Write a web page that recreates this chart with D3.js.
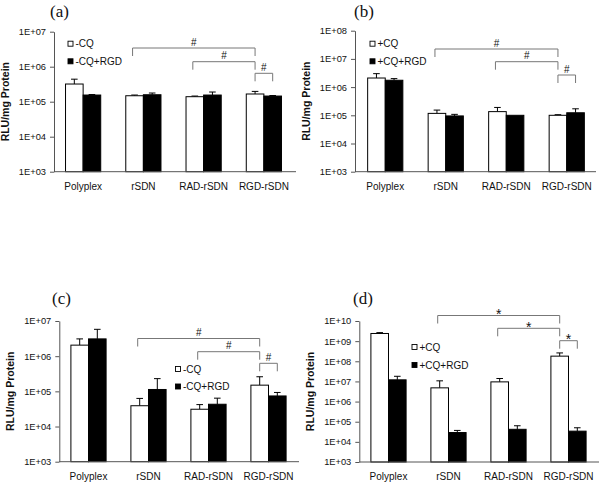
<!DOCTYPE html>
<html><head><meta charset="utf-8">
<script src="https://cdn.jsdelivr.net/npm/d3@7/dist/d3.min.js"></script>
<style>body{margin:0;background:#fff}svg{display:block}</style>
</head><body>
<svg id="chart" width="600" height="484"></svg>
<script>
// ---------- DATA ----------
const categories = ["Polyplex", "rSDN", "RAD-rSDN", "RGD-rSDN"];
const tickLabelsA = ["1E+03", "1E+04", "1E+05", "1E+06", "1E+07"];
const tickLabelsB = ["1E+03", "1E+04", "1E+05", "1E+06", "1E+07", "1E+08"];
const tickLabelsC = ["1E+03", "1E+04", "1E+05", "1E+06", "1E+07"];
const tickLabelsD = ["1E+03", "1E+04", "1E+05", "1E+06", "1E+07", "1E+08", "1E+09", "1E+10"];

const seriesA = ["-CQ", "-CQ+RGD"];
const aOpen = [3.2e5, 1.48e5, 1.39e5, 1.66e5];
const aOpenSD = [1.2e5, 0.07e5, 0.06e5, 0.31e5];
const aFilled = [1.55e5, 1.58e5, 1.55e5, 1.45e5];
const aFilledSD = [0.05e5, 0.19e5, 0.34e5, 0.05e5];

const seriesB = ["+CQ", "+CQ+RGD"];
const bOpen = [2.1e6, 1.17e5, 1.35e5, 1.0e5];
const bOpenSD = [0.9e6, 0.36e5, 0.55e5, 0.05e5];
const bFilled = [1.75e6, 0.95e5, 1.0e5, 1.23e5];
const bFilledSD = [0.25e6, 0.13e5, 0, 0.47e5];

const seriesC = ["-CQ", "-CQ+RGD"];
const cOpen = [2.06e6, 3.9e4, 3.1e4, 1.5e5];
const cOpenSD = [1.04e6, 2.4e4, 1.1e4, 1.1e5];
const cFilled = [3.1e6, 1.13e5, 4.3e4, 7.4e4];
const cFilledSD = [2.7e6, 1.17e5, 2.1e4, 1.9e4];

const seriesD = ["+CQ", "+CQ+RGD"];
const dOpen = [2.4e9, 4.8e6, 9.5e6, 1.8e8];
const dOpenSD = [0.25e9, 5.9e6, 4.5e6, 0.8e8];
const dFilled = [1.2e7, 2.9e4, 4.2e4, 3.4e4];
const dFilledSD = [0.6e7, 0.8e4, 2.1e4, 1.6e4];

// significance comparisons: [fromCategory, fromSeries, toCategory, toSeries]
const comparisons = [
  ["rSDN", 0, "RGD-rSDN", 0],
  ["RAD-rSDN", 0, "RGD-rSDN", 0],
  ["RGD-rSDN", 0, "RGD-rSDN", 1]
];
const symbolsA = ["#", "#", "#"];
const symbolsB = ["#", "#", "#"];
const symbolsC = ["#", "#", "#"];
const symbolsD = ["*", "*", "*"];

// ---------- LAYOUT ----------
const panels = [
  {label: "(a)", ticks: tickLabelsA, series: seriesA, open: aOpen, openSD: aOpenSD, filled: aFilled, filledSD: aFilledSD, symbols: symbolsA,
   axisX: 54, x0: 53, x1: 294, xEnd: 296, top: 31.7, bottom: 171.7, labelX: 50, labelY: 17,
   legX: 68, legY: [43.7, 61.3], brk: [16.3, 30, 41.6]},
  {label: "(b)", ticks: tickLabelsB, series: seriesB, open: bOpen, openSD: bOpenSD, filled: bFilled, filledSD: bFilledSD, symbols: symbolsB,
   axisX: 355, x0: 355, x1: 597, xEnd: 596, top: 30.7, bottom: 171.7, labelX: 354, labelY: 17,
   legX: 370, legY: [43.7, 61.3], brk: [18.3, 31, 44.3]},
  {label: "(c)", ticks: tickLabelsC, series: seriesC, open: cOpen, openSD: cOpenSD, filled: cFilled, filledSD: cFilledSD, symbols: symbolsC,
   axisX: 59.3, x0: 58.5, x1: 298.5, xEnd: 299, top: 321, bottom: 461.7, labelX: 52, labelY: 304,
   legX: 175.5, legY: [369, 386.5], brk: [17.5, 30.7, 42.3]},
  {label: "(d)", ticks: tickLabelsD, series: seriesD, open: dOpen, openSD: dOpenSD, filled: dFilled, filledSD: dFilledSD, symbols: symbolsD,
   axisX: 359.3, x0: 358.5, x1: 598.5, xEnd: 599, top: 321, bottom: 462, labelX: 353, labelY: 304,
   legX: 412, legY: [347, 365], brk: [-5.5, 7.3, 19.7]}
];

const svg = d3.select("#chart");
const SANS = "'Liberation Sans', Arial, sans-serif";
const SERIF = "'Liberation Serif', 'Times New Roman', serif";
const barW = 17.6;
const fills = ["#ffffff", "#000000"];

panels.forEach(p => {
  const g = svg.append("g");
  const vals = p.ticks.map(t => +t);
  const y = d3.scaleLog().domain([vals[0], vals[vals.length - 1]]).range([p.bottom, p.top]);
  const x = d3.scaleBand().domain(categories).range([p.x0, p.x1]);
  const cx = (cat, s) => x(cat) + x.bandwidth() / 2 + (s === 0 ? -barW / 2 : barW / 2);

  // y axis
  const yAxis = d3.axisLeft(y).tickValues(vals).tickFormat((d, i) => p.ticks[i]).tickSize(4).tickSizeOuter(0).tickPadding(4);
  const ya = g.append("g").attr("transform", `translate(${p.axisX},0)`).call(yAxis);
  ya.select(".domain").attr("stroke", "#555");
  ya.selectAll(".tick line").attr("stroke", "#555");
  ya.selectAll(".tick text").attr("font-family", SANS).attr("font-size", 9.3).attr("fill", "#111");

  // y title
  g.append("text")
    .attr("transform", `translate(${p.axisX - 45},${(p.top + p.bottom) / 2}) rotate(-90)`)
    .attr("text-anchor", "middle").attr("font-family", SANS).attr("font-weight", "bold")
    .attr("font-size", 10.5).attr("fill", "#111").text("RLU/mg Protein");

  // bars
  const rows = [];
  categories.forEach((c, i) => {
    rows.push({cat: c, s: 0, v: p.open[i], sd: p.openSD[i]});
    rows.push({cat: c, s: 1, v: p.filled[i], sd: p.filledSD[i]});
  });
  rows.filter(r => r.sd > 0).forEach(r => {
    const xc = cx(r.cat, r.s);
    g.append("line").attr("x1", xc).attr("x2", xc).attr("y1", y(r.v)).attr("y2", y(r.v + r.sd)).attr("stroke", "#000").attr("stroke-width", 1);
    g.append("line").attr("x1", xc - 3.3).attr("x2", xc + 3.3).attr("y1", y(r.v + r.sd)).attr("y2", y(r.v + r.sd)).attr("stroke", "#000").attr("stroke-width", 1);
  });
  g.selectAll("rect.bar").data(rows).enter().append("rect")
    .attr("x", r => cx(r.cat, r.s) - barW / 2)
    .attr("width", barW)
    .attr("y", r => y(r.v))
    .attr("height", r => p.bottom - y(r.v))
    .attr("fill", r => fills[r.s]).attr("stroke", "#000").attr("stroke-width", 1);

  // x axis line
  g.append("line").attr("x1", p.axisX).attr("x2", p.xEnd).attr("y1", p.bottom).attr("y2", p.bottom).attr("stroke", "#555");
  // category labels
  g.selectAll("text.cat").data(categories).enter().append("text")
    .attr("x", c => x(c) + x.bandwidth() / 2).attr("y", p.bottom + 18)
    .attr("text-anchor", "middle").attr("font-family", SANS).attr("font-size", 10).attr("fill", "#111").text(c => c);

  // legend
  p.series.forEach((s, i) => {
    g.append("rect").attr("x", p.legX).attr("y", p.legY[i] - 2.5).attr("width", 5).attr("height", 5)
      .attr("fill", fills[i]).attr("stroke", "#000").attr("stroke-width", 0.9);
    g.append("text").attr("x", p.legX + 7.5).attr("y", p.legY[i] + 3.6)
      .attr("font-family", SANS).attr("font-size", 10).attr("fill", "#111").text(s);
  });

  // significance brackets
  comparisons.forEach((cmp, i) => {
    const xa = cx(cmp[0], cmp[1]) - (cmp[0] === cmp[2] ? 0 : 2);
    const xb = cx(cmp[2], cmp[3]);
    const yl = p.top + p.brk[i];
    g.append("path").attr("d", `M${xa},${yl + 8}V${yl}H${xb}V${yl + 8}`)
      .attr("fill", "none").attr("stroke", "#777").attr("stroke-width", 1);
    const isStar = p.symbols[i] === "*";
    g.append("text").attr("x", (xa + xb) / 2).attr("y", isStar ? yl + 3.5 : yl - 2.5)
      .attr("text-anchor", "middle").attr("font-family", SANS)
      .attr("font-size", isStar ? 14 : 10).attr("fill", "#111").text(p.symbols[i]);
  });

  // panel label
  g.append("text").attr("x", p.labelX).attr("y", p.labelY)
    .attr("font-family", SERIF).attr("font-size", 17).attr("fill", "#111").text(p.label);
});
</script>
</body></html>
